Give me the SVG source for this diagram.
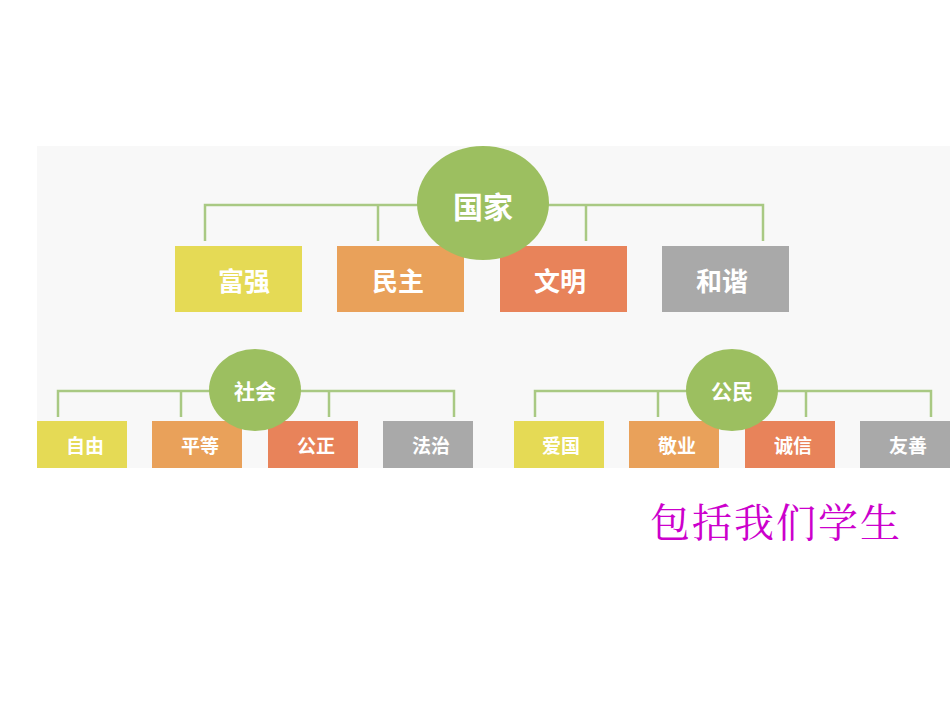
<svg xmlns="http://www.w3.org/2000/svg" width="950" height="713" viewBox="0 0 950 713">
<style>
.c{fill:#9CBF60}.y{fill:#E5DA55}.o{fill:#E9A15A}.r{fill:#E8835A}.g{fill:#A9A9A9}
.t{fill:#fff;font-family:"Noto Sans CJK SC",sans-serif;font-weight:bold;text-anchor:middle;dominant-baseline:central}
.l{fill:none;stroke:#A9C983;stroke-width:2.5}
</style>
<rect x="37" y="146" width="913" height="322" fill="#F8F8F8"/>
<g id="connectors" class="l">
<path d="M205 241V205H763V241M378 205V241M586 205V241"/>
<path d="M58 417V391H454V417M181 391V417M329 391V417"/>
<path d="M535 417V391H931V417M658 391V417M806 391V417"/>
</g>
<g id="fuqiang"><rect class="y" x="175" y="246" width="127" height="66"/><text class="t" x="244" y="279" font-size="26">富强</text></g>
<g id="minzhu"><rect class="o" x="337" y="246" width="127" height="66"/><text class="t" x="398" y="279" font-size="26">民主</text></g>
<g id="wenming"><rect class="r" x="500" y="246" width="127" height="66"/><text class="t" x="560" y="279" font-size="26">文明</text></g>
<g id="hexie"><rect class="g" x="662" y="246" width="127" height="66"/><text class="t" x="722" y="279" font-size="26">和谐</text></g>
<g id="guojia"><ellipse class="c" cx="483" cy="203" rx="66" ry="57"/><text class="t" x="483" y="205" font-size="30">国家</text></g>
<g id="ziyou"><rect class="y" x="37" y="421" width="90" height="47"/><text class="t" x="85" y="444" font-size="19">自由</text></g>
<g id="pingdeng"><rect class="o" x="152" y="421" width="90" height="47"/><text class="t" x="200" y="444" font-size="19">平等</text></g>
<g id="gongzheng"><rect class="r" x="268" y="421" width="90" height="47"/><text class="t" x="316" y="444" font-size="19">公正</text></g>
<g id="fazhi"><rect class="g" x="383" y="421" width="90" height="47"/><text class="t" x="431" y="444" font-size="19">法治</text></g>
<g id="shehui"><ellipse class="c" cx="255" cy="390" rx="46" ry="41"/><text class="t" x="255" y="390" font-size="21">社会</text></g>
<g id="aiguo"><rect class="y" x="514" y="421" width="90" height="47"/><text class="t" x="561" y="444" font-size="19">爱国</text></g>
<g id="jingye"><rect class="o" x="629" y="421" width="90" height="47"/><text class="t" x="677" y="444" font-size="19">敬业</text></g>
<g id="chengxin"><rect class="r" x="745" y="421" width="90" height="47"/><text class="t" x="793" y="444" font-size="19">诚信</text></g>
<g id="youshan"><rect class="g" x="860" y="421" width="90" height="47"/><text class="t" x="908" y="444" font-size="19">友善</text></g>
<g id="gongmin"><ellipse class="c" cx="732" cy="390" rx="46" ry="41"/><text class="t" x="732" y="390" font-size="21">公民</text></g>
<text x="650" y="537" font-size="40" fill="#CC00CC" font-family="'Noto Serif CJK SC','Noto Sans CJK SC',serif" textLength="250">包括我们学生</text>
</svg>
